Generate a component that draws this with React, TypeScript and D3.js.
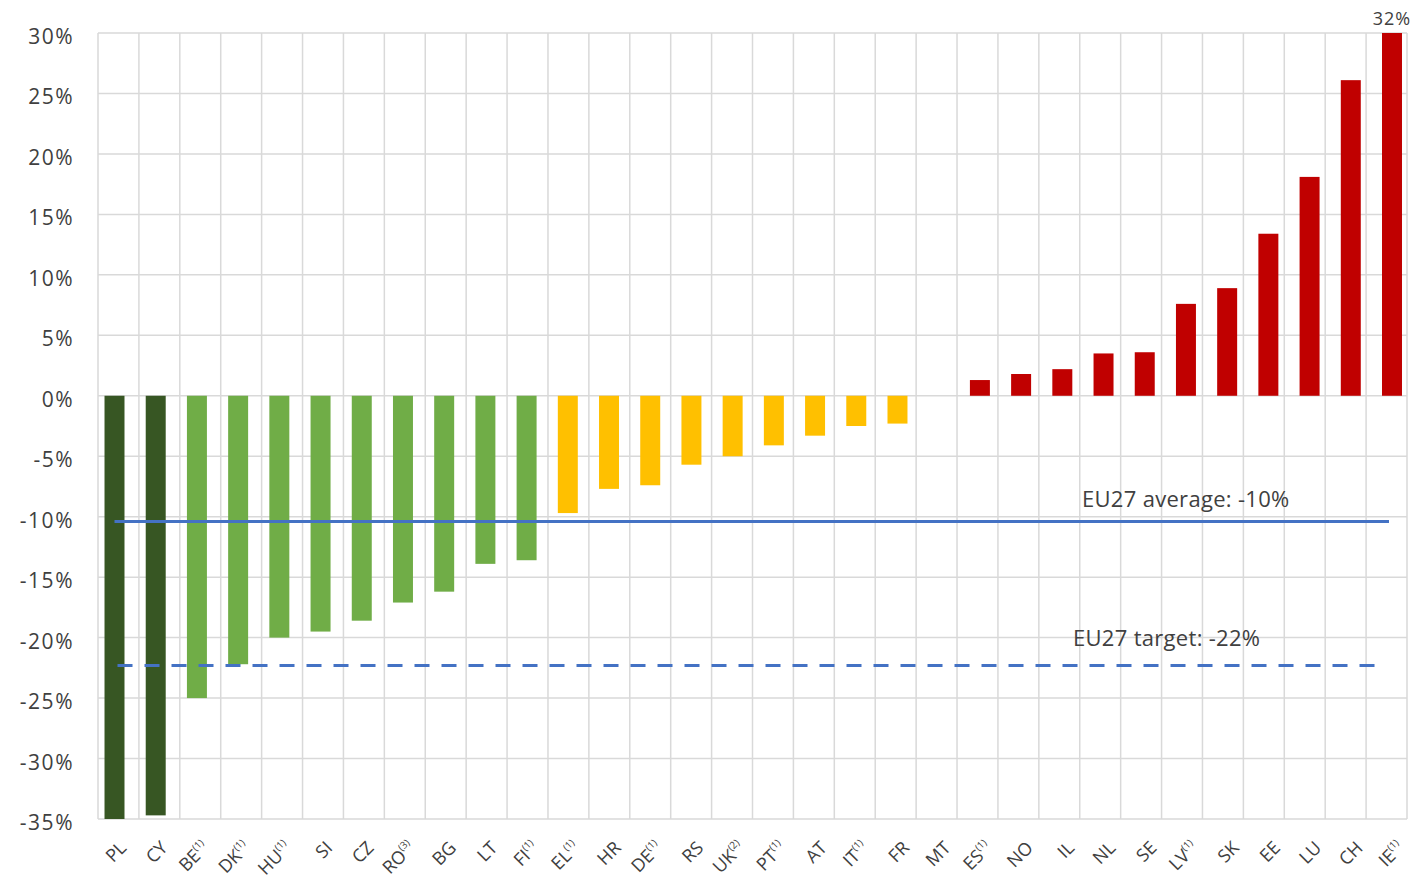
import React from "react";
import * as d3 from "d3";

const countries = ["PL","CY","BE","DK","HU","SI","CZ","RO","BG","LT","FI","EL","HR","DE","RS","UK","PT","AT","IT","FR","MT","ES","NO","IL","NL","SE","LV","SK","EE","LU","CH","IE"];
const superscripts = ["","","(1)","(1)","(1)","","","(3)","","","(1)","(1)","","(1)","","(2)","(1)","","(1)","","","(1)","","","","","(1)","","","","","(1)"];
const values = [-35,-34.7,-25,-22.2,-20,-19.5,-18.6,-17.1,-16.2,-13.9,-13.6,-9.7,-7.7,-7.4,-5.7,-5.0,-4.1,-3.3,-2.5,-2.3,0,1.3,1.8,2.2,3.5,3.6,7.6,8.9,13.4,18.1,26.1,32];
const groups = ["dark","dark","green","green","green","green","green","green","green","green","green","gold","gold","gold","gold","gold","gold","gold","gold","gold","gold","red","red","red","red","red","red","red","red","red","red","red"];
const yTicks = [30,25,20,15,10,5,0,-5,-10,-15,-20,-25,-30,-35];
const euAverage = -10.4;
const euTarget = -22.3;

const colors: Record<string, string> = { dark: "#375623", green: "#70AD47", gold: "#FFC000", red: "#C00000" };

export default function App() {
  const W = 1417, H = 885;
  const gLeft = 98, gRight = 1407, top = 33, bottom = 819;
  const x = d3.scaleBand<string>().domain(countries).range([93.9, 1412.6]).paddingInner(0.515).paddingOuter(0.2575);
  const xg = d3.scaleBand<string>().domain(countries).range([gLeft, gRight]);
  const y = d3.scaleLinear().domain([-35, 30]).range([bottom, top]);
  const font = "'Open Sans', Lato, sans-serif";
  const first = countries[0], last = countries[countries.length - 1];
  const cxOf = (c: string) => (x(c) ?? 0) + x.bandwidth() / 2;
  return (
    <svg width={W} height={H} style={{ position: "absolute", left: 0, top: 0, background: "#fff" }}>
      {yTicks.map((t) => (
        <line key={"h" + t} x1={gLeft} x2={gRight} y1={y(t)} y2={y(t)} stroke="#d9d9d9" strokeWidth={1.5} />
      ))}
      {countries.map((c) => (
        <line key={"v" + c} x1={xg(c)} x2={xg(c)} y1={top} y2={bottom} stroke="#d9d9d9" strokeWidth={1.5} />
      ))}
      <line x1={gRight} x2={gRight} y1={top} y2={bottom} stroke="#d9d9d9" strokeWidth={1.5} />
      {countries.map((c, i) => {
        const v = Math.min(values[i], 30);
        const y0 = y(0), y1 = y(v);
        return (
          <rect key={"b" + c} x={x(c)} width={x.bandwidth()} y={Math.min(y0, y1)} height={Math.abs(y1 - y0)} fill={colors[groups[i]]} />
        );
      })}
      <text x={cxOf(last)} y={25} textAnchor="middle" fontFamily={font} fontSize={18} letterSpacing={1} fill="#404040">32%</text>
      <line x1={cxOf(first)} x2={cxOf(last) - 3} y1={y(euAverage)} y2={y(euAverage)} stroke="#4472C4" strokeWidth={3} />
      <line x1={cxOf(first) + 3} x2={cxOf(last) - 10} y1={y(euTarget)} y2={y(euTarget)} stroke="#4472C4" strokeWidth={3} strokeDasharray="15 12" />
      <text x={1082} y={507} fontFamily={font} fontSize={22} letterSpacing={0.3} fill="#404040">EU27 average: -10%</text>
      <text x={1073} y={646} fontFamily={font} fontSize={22} letterSpacing={0.3} fill="#404040">EU27 target: -22%</text>
      {yTicks.map((t) => (
        <text key={"yl" + t} x={74} y={y(t) + 11} textAnchor="end" fontFamily={font} fontSize={21} letterSpacing={1.5} fill="#404040">{t + "%"}</text>
      ))}
      {countries.map((c, i) => {
        const ax = cxOf(c) + 13;
        const ay = 849;
        return (
          <text key={"xl" + c} transform={`translate(${ax},${ay}) rotate(-45)`} textAnchor="end" fontFamily={font} fontSize={18} fill="#404040">
            {c}
            {superscripts[i] && <tspan fontSize={10} dy={-8}>{superscripts[i]}</tspan>}
          </text>
        );
      })}
    </svg>
  );
}
